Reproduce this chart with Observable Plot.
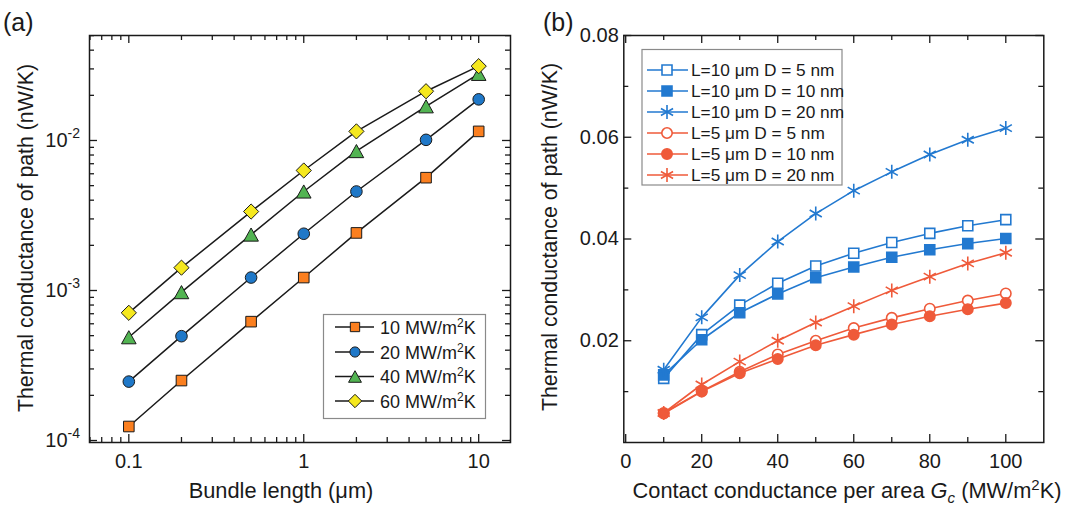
<!DOCTYPE html>
<html><head><meta charset="utf-8">
<script src="https://cdn.jsdelivr.net/npm/d3@7"></script>
<script src="https://cdn.jsdelivr.net/npm/@observablehq/plot@0.6"></script>
<style>
body{margin:0;background:#fff;}
#wrap{position:relative;width:1067px;height:508px;overflow:hidden;font-family:"Liberation Sans",Arial,sans-serif;background:#fff;}
#wrap svg{position:absolute;top:0;overflow:visible;}
</style></head><body><div id="wrap"></div>
<script>
// ---------- Panel (a) data ----------
const bundleLength = [0.1, 0.2, 0.5, 1, 2, 5, 10];
const g10 = [1.24e-4, 2.51e-4, 6.2e-4, 1.22e-3, 2.42e-3, 5.65e-3, 1.15e-2];
const g20 = [2.47e-4, 4.96e-4, 1.22e-3, 2.39e-3, 4.57e-3, 1.01e-2, 1.88e-2];
const g40 = [4.88e-4, 9.75e-4, 2.36e-3, 4.57e-3, 8.5e-3, 1.69e-2, 2.78e-2];
const g60 = [7.1e-4, 1.42e-3, 3.36e-3, 6.31e-3, 1.15e-2, 2.13e-2, 3.13e-2];
const seriesA = ["10", "20", "40", "60"];
const xTicksA = [0.1, 1, 10];
const xTickLabelsA = ["0.1", "1", "10"];
const yTicksA = [1e-4, 1e-3, 1e-2];
const yTickExpA = ["-4", "-3", "-2"];

// ---------- Panel (b) data ----------
const gc = [10, 20, 30, 40, 50, 60, 70, 80, 90, 100];
const l10d5  = [0.0126, 0.0212, 0.0270, 0.0313, 0.0347, 0.0372, 0.0393, 0.0411, 0.0426, 0.0438];
const l10d10 = [0.0133, 0.0202, 0.0255, 0.0292, 0.0324, 0.0345, 0.0364, 0.0379, 0.0391, 0.0401];
const l10d20 = [0.0143, 0.0246, 0.0329, 0.0395, 0.0450, 0.0495, 0.0532, 0.0566, 0.0595, 0.0618];
const l5d5   = [0.0058, 0.0101, 0.0139, 0.0173, 0.0200, 0.0225, 0.0245, 0.0263, 0.0279, 0.0293];
const l5d10  = [0.0057, 0.0100, 0.0136, 0.0164, 0.0191, 0.0212, 0.0232, 0.0248, 0.0262, 0.0274];
const l5d20  = [0.0058, 0.0114, 0.0159, 0.0200, 0.0236, 0.0268, 0.0299, 0.0326, 0.0352, 0.0373];
const seriesB = ["L=10 μm D = 5 nm", "L=10 μm D = 10 nm", "L=10 μm D = 20 nm",
                 "L=5 μm D = 5 nm", "L=5 μm D = 10 nm", "L=5 μm D = 20 nm"];
const xTicksB = [0, 20, 40, 60, 80, 100];
const xMinorB = [10, 30, 50, 70, 90];
const yTicksB = [0.02, 0.04, 0.06, 0.08];
const yMinorB = [0.01, 0.03, 0.05, 0.07];

// ---------- symbols ----------
const R = s => Math.sqrt(s / Math.PI);
const symSquare = {draw(c, s){const r = R(s); c.moveTo(-r,-r); c.lineTo(r,-r); c.lineTo(r,r); c.lineTo(-r,r); c.closePath();}};
const symCircle = {draw(c, s){const r = R(s); c.moveTo(r,0); c.arc(0,0,r,0,2*Math.PI); c.closePath();}};
const symTriangle = {draw(c, s){const r = R(s); const h = r*0.9; c.moveTo(0,-h); c.lineTo(r,h); c.lineTo(-r,h); c.closePath();}};
const symDiamond = {draw(c, s){const r = R(s); c.moveTo(0,-r); c.lineTo(r,0); c.lineTo(0,r); c.lineTo(-r,0); c.closePath();}};
const symStar = {draw(c, s){const r = R(s); c.moveTo(0,-r); c.lineTo(0,r);
  const a = Math.PI/6, dx = r*Math.cos(a), dy = r*Math.sin(a);
  c.moveTo(-dx,-dy); c.lineTo(dx,dy); c.moveTo(-dx,dy); c.lineTo(dx,-dy);}};

const font = "'Liberation Sans', Arial, sans-serif";
const ink = "#1a1a1a";
const wrap = document.getElementById("wrap");

// ================= Panel (a) =================
const mA = {top: 35, right: 20, bottom: 66, left: 89};
const WA = 530, H = 508;
const fwA = WA - mA.left - mA.right, fhA = H - mA.top - mA.bottom;
const xDomA = [0.0596, 15.2], yDomA = [9.7e-5, 0.0501];
const inRange = (v, d) => v >= d[0] && v <= d[1];
const minorLog = d => { const o = []; for (let k = -5; k <= 2; k++) for (let m = 2; m <= 9; m++) { const v = m * Math.pow(10, k); if (inRange(v, d)) o.push(v); } return o; };
const xMinorA = minorLog(xDomA), yMinorA = minorLog(yDomA);

const colA = ["#fb7f1f", "#1f78c8", "#52b452", "#f5e81e"];
const symA = [symSquare, symCircle, symTriangle, symDiamond];
const rA = [5.3, 5.8, 7.3, 7.6];
const valsA = [g10, g20, g40, g60];

const marksA = [];
valsA.forEach((vals, i) => {
  const d = vals.map((v, j) => ({x: bundleLength[j], y: v, s: seriesA[i]}));
  marksA.push(Plot.line(d, {x: "x", y: "y", stroke: ink, strokeWidth: 1.5}));
});
valsA.forEach((vals, i) => {
  const d = vals.map((v, j) => ({x: bundleLength[j], y: v, s: seriesA[i]}));
  marksA.push(Plot.dot(d, {x: "x", y: "y", r: rA[i], symbol: symA[i], fill: colA[i], stroke: ink, strokeWidth: 1}));
});

function inwardTicks(xMaj, xMin, yMaj, yMin, fw, fh, Lmaj, Lmin) {
  const t = {stroke: ink, strokeWidth: 1.3};
  return [
    Plot.tickX(xMaj, {x: d => d, insetTop: fh - Lmaj, ...t}),
    Plot.tickX(xMaj, {x: d => d, insetBottom: fh - Lmaj, ...t}),
    Plot.tickX(xMin, {x: d => d, insetTop: fh - Lmin, ...t}),
    Plot.tickX(xMin, {x: d => d, insetBottom: fh - Lmin, ...t}),
    Plot.tickY(yMaj, {y: d => d, insetRight: fw - Lmaj, ...t}),
    Plot.tickY(yMaj, {y: d => d, insetLeft: fw - Lmaj, ...t}),
    Plot.tickY(yMin, {y: d => d, insetRight: fw - Lmin, ...t}),
    Plot.tickY(yMin, {y: d => d, insetLeft: fw - Lmin, ...t})
  ];
}

const plotA = Plot.plot({
  width: WA, height: H,
  marginTop: mA.top, marginRight: mA.right, marginBottom: mA.bottom, marginLeft: mA.left,
  x: {type: "log", domain: xDomA, axis: null},
  y: {type: "log", domain: yDomA, axis: null},
  style: {fontFamily: font, fontSize: "20px", color: ink, background: "transparent", overflow: "visible"},
  marks: [
    ...marksA,
    ...inwardTicks(xTicksA, xMinorA, yTicksA, yMinorA, fwA, fhA, 8, 5),
    Plot.frame({stroke: ink, strokeWidth: 1.5}),
    Plot.axisX(xTicksA, {anchor: "bottom", tickSize: 0, tickPadding: 11, fontSize: 20, label: null,
      tickFormat: d => xTickLabelsA[xTicksA.indexOf(d)]})
  ]
});
plotA.style.left = "0px";
wrap.appendChild(plotA);

// ================= Panel (b) =================
const LB = 530, WB = 537;
const mB = {top: 35, right: 23.7, bottom: 66, left: 93.3};
const fwB = WB - mB.left - mB.right, fhB = H - mB.top - mB.bottom;
const blue = "#2279d0", red = "#ef5a3a";
const colB = [blue, blue, blue, red, red, red];
const symB = [symSquare, symSquare, symStar, symCircle, symCircle, symStar];
const fillB = ["white", blue, "none", "white", red, "none"];
const rB = [5, 5, 7, 5.2, 5.2, 7];
const valsB = [l10d5, l10d10, l10d20, l5d5, l5d10, l5d20];

const marksB = [];
[3, 4, 5, 0, 1, 2].forEach(i => {
  const d = valsB[i].map((v, j) => ({x: gc[j], y: v, s: seriesB[i]}));
  marksB.push(Plot.line(d, {x: "x", y: "y", stroke: colB[i], strokeWidth: 1.6}));
  marksB.push(Plot.dot(d, {x: "x", y: "y", r: rB[i], symbol: symB[i], fill: fillB[i], stroke: colB[i], strokeWidth: 1.6}));
});

const plotB = Plot.plot({
  width: WB, height: H,
  marginTop: mB.top, marginRight: mB.right, marginBottom: mB.bottom, marginLeft: mB.left,
  x: {domain: [-0.5, 110], axis: null},
  y: {domain: [0, 0.08], axis: null},
  style: {fontFamily: font, fontSize: "20px", color: ink, background: "transparent", overflow: "visible"},
  marks: [
    ...marksB,
    ...inwardTicks(xTicksB, xMinorB, yTicksB, yMinorB, fwB, fhB, 8, 5),
    Plot.frame({stroke: ink, strokeWidth: 1.5}),
    Plot.axisX(xTicksB, {anchor: "bottom", tickSize: 0, tickPadding: 11, fontSize: 20, label: null, tickFormat: d => String(d)}),
    Plot.axisY(yTicksB, {anchor: "left", tickSize: 0, tickPadding: 5, fontSize: 20, label: null, tickFormat: d => d.toFixed(2)})
  ]
});
plotB.style.left = LB + "px";
wrap.appendChild(plotB);

// ================= annotations (text, legends) =================
const sa = d3.select(plotA), sb = d3.select(plotB);
const yA = plotA.scale("y");

function txt(sel, x, y, s, size, extra = {}) {
  const t = sel.append("text").attr("x", x).attr("y", y).attr("font-family", font)
    .attr("font-size", size).attr("fill", ink).attr("text-anchor", "start").text(s);
  for (const k in extra) t.attr(k, extra[k]);
  return t;
}

// log y tick labels with superscripts
yTicksA.forEach((v, i) => {
  const t = txt(sa, 80, yA.apply(v) + 7, null, 20, {"text-anchor": "end"});
  t.append("tspan").text("10");
  t.append("tspan").attr("dy", -9).attr("font-size", 14).text(yTickExpA[i]);
});

// panel letters
txt(sa, 3, 31, "(a)", 25);
txt(sb, 543 - LB, 31, "(b)", 25);
// y-axis titles
txt(sa, 0, 0, "Thermal conductance of path (nW/K)", 21.3, {"text-anchor": "middle", transform: "translate(33,238) rotate(-90)"});
txt(sb, 0, 0, "Thermal conductance of path (nW/K)", 21.3, {"text-anchor": "middle", transform: `translate(${557 - LB},237) rotate(-90)`});
// x-axis titles
txt(sa, 281, 498, "Bundle length (μm)", 21.8, {"text-anchor": "middle"});
{
  const t = txt(sb, 847 - LB, 498, null, 21.8, {"text-anchor": "middle"});
  t.append("tspan").text("Contact conductance per area ");
  t.append("tspan").attr("font-style", "italic").text("G");
  t.append("tspan").attr("font-style", "italic").attr("font-size", 15).attr("dy", 5).text("c");
  t.append("tspan").attr("dy", -5).text(" (MW/m");
  t.append("tspan").attr("font-size", 15).attr("dy", -8).text("2");
  t.append("tspan").attr("dy", 8).text("K)");
}

// legend (a)
sa.append("rect").attr("x", 323.5).attr("y", 314.5).attr("width", 162).attr("height", 104)
  .attr("fill", "white").attr("stroke", "#8a8a8a").attr("stroke-width", 1.2);
const legYA = [327, 352, 376.5, 401];
seriesA.forEach((s, i) => {
  const y = legYA[i];
  sa.append("line").attr("x1", 335).attr("x2", 374).attr("y1", y).attr("y2", y).attr("stroke", ink).attr("stroke-width", 1.5);
  const p = d3.path(); symA[i].draw(p, Math.PI * Math.pow(rA[i] * 0.88, 2));
  sa.append("path").attr("d", p.toString()).attr("transform", `translate(355,${y})`)
    .attr("fill", colA[i]).attr("stroke", ink).attr("stroke-width", 1);
  const t = txt(sa, 380, y + 6.5, null, 18);
  t.append("tspan").text(s + " MW/m");
  t.append("tspan").attr("font-size", 12).attr("dy", -7).text("2");
  t.append("tspan").attr("dy", 7).text("K");
});

// legend (b)
sb.append("rect").attr("x", 642 - LB).attr("y", 49.5).attr("width", 200).attr("height", 135.5)
  .attr("fill", "white").attr("stroke", "#8a8a8a").attr("stroke-width", 1.2);
const legYB = [70, 91, 112, 133, 154, 175];
seriesB.forEach((s, i) => {
  const y = legYB[i];
  sb.append("line").attr("x1", 647 - LB).attr("x2", 688 - LB).attr("y1", y).attr("y2", y)
    .attr("stroke", colB[i]).attr("stroke-width", 1.6);
  const p = d3.path(); symB[i].draw(p, Math.PI * rB[i] * rB[i]);
  sb.append("path").attr("d", p.toString()).attr("transform", `translate(${667 - LB},${y})`)
    .attr("fill", fillB[i]).attr("stroke", colB[i]).attr("stroke-width", 1.6);
  txt(sb, 691 - LB, y + 6, s, 17.3);
});
</script>
</body></html>
